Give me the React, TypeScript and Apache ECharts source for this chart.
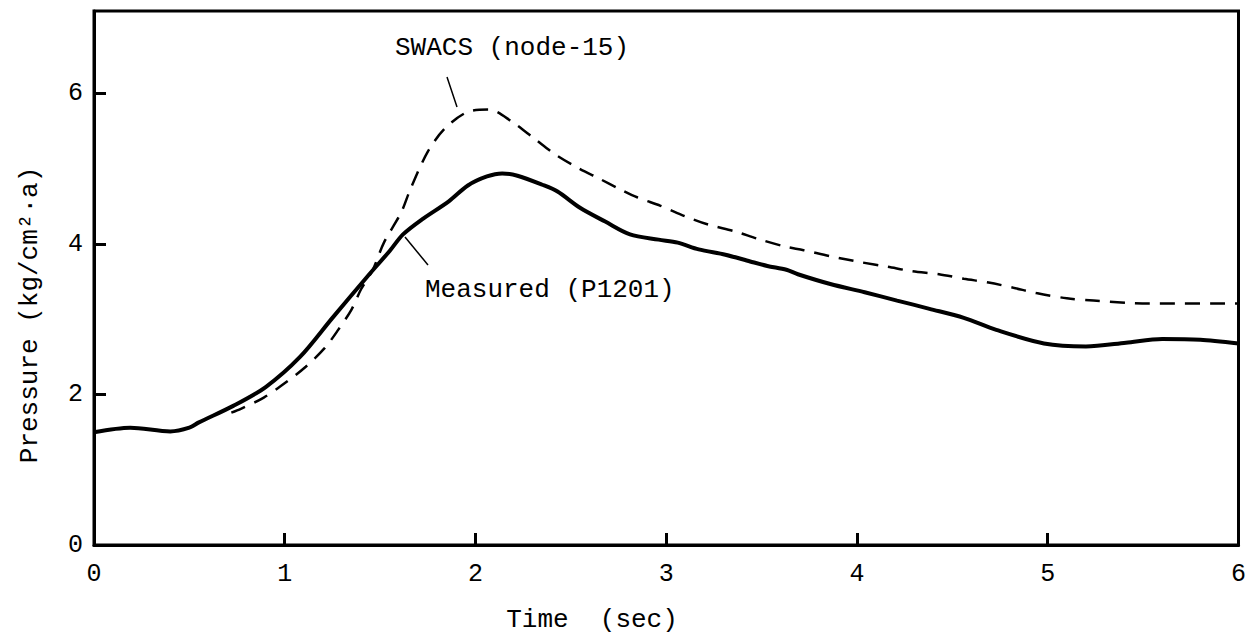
import React, { useEffect, useRef } from "react";
import * as echarts from "echarts";

const measuredTime = [0, 0.19, 0.4, 0.5, 0.55, 0.73, 0.9, 1.08, 1.25, 1.43, 1.55, 1.62, 1.72, 1.86, 1.96, 2.06, 2.14, 2.22, 2.35, 2.43, 2.55, 2.68, 2.81, 2.96, 3.06, 3.17, 3.31, 3.44, 3.53, 3.63, 3.69, 3.86, 4.04, 4.21, 4.38, 4.56, 4.73, 4.98, 5.2, 5.41, 5.6, 5.8, 6.0];
const measuredPressure = [1.5, 1.56, 1.51, 1.56, 1.63, 1.85, 2.1, 2.5, 3.02, 3.56, 3.91, 4.13, 4.33, 4.57, 4.78, 4.9, 4.94, 4.91, 4.79, 4.7, 4.48, 4.3, 4.13, 4.06, 4.02, 3.93, 3.86, 3.77, 3.71, 3.66, 3.6, 3.47, 3.36, 3.25, 3.14, 3.02, 2.86, 2.68, 2.64, 2.69, 2.74, 2.73, 2.68];

const swacsTime = [0.72, 0.77, 0.89, 1.01, 1.11, 1.21, 1.28, 1.35, 1.4, 1.46, 1.52, 1.61, 1.66, 1.75, 1.84, 1.96, 2.07, 2.19, 2.31, 2.42, 2.54, 2.65, 2.75, 2.85, 2.97, 3.1, 3.22, 3.36, 3.48, 3.62, 3.72, 3.86, 4.02, 4.16, 4.29, 4.43, 4.56, 4.69, 4.82, 4.94, 5.1, 5.24, 5.53, 6.0];
const swacsPressure = [1.76, 1.81, 1.96, 2.17, 2.37, 2.62, 2.86, 3.13, 3.4, 3.65, 4.02, 4.42, 4.74, 5.23, 5.54, 5.76, 5.79, 5.63, 5.4, 5.19, 5.01, 4.87, 4.74, 4.62, 4.51, 4.37, 4.26, 4.17, 4.07, 3.97, 3.92, 3.84, 3.76, 3.7, 3.64, 3.6, 3.54, 3.49, 3.42, 3.35, 3.28, 3.25, 3.21, 3.21];

const xTicks = [0, 1, 2, 3, 4, 5, 6];
const yTicks = [0, 2, 4, 6];

const FONT = "Liberation Mono";

export default function App() {
  const ref = useRef<HTMLDivElement>(null);
  useEffect(() => {
    if (!ref.current) return;
    const chart = echarts.init(ref.current, null, { renderer: "svg" });
    const measured = measuredTime.map((t, i) => [t, measuredPressure[i]]);
    const swacs = swacsTime.map((t, i) => [t, swacsPressure[i]]);
    chart.setOption({
      animation: false,
      backgroundColor: "#fff",
      grid: {
        left: 86,
        right: 6,
        top: 3,
        bottom: 96,
        show: true,
        borderColor: "#000",
        borderWidth: 3,
      },
      xAxis: {
        type: "value",
        min: 0,
        max: 6,
        interval: 1,
        axisLine: { show: true, lineStyle: { color: "#000", width: 3 } },
        axisTick: { show: true, inside: true, length: 12, lineStyle: { color: "#000", width: 3 } },
        axisLabel: {
          margin: 17,
          color: "#000",
          fontFamily: FONT,
          fontSize: 25,
          formatter: (v: number) => (xTicks.includes(v) ? String(v) : ""),
        },
        splitLine: { show: false },
      },
      yAxis: {
        type: "value",
        min: 0,
        max: 7.1,
        interval: 2,
        axisLine: { show: true, lineStyle: { color: "#000", width: 3 } },
        axisTick: { show: true, inside: true, length: 12, lineStyle: { color: "#000", width: 3 } },
        axisLabel: {
          margin: 11,
          color: "#000",
          fontFamily: FONT,
          fontSize: 25,
          showMaxLabel: false,
          formatter: (v: number) => (yTicks.includes(v) ? String(v) : ""),
        },
        splitLine: { show: false },
      },
      series: [
        {
          name: "Measured (P1201)",
          type: "line",
          data: measured,
          smooth: 0.3,
          symbol: "none",
          lineStyle: { color: "#000", width: 4 },
        },
        {
          name: "SWACS (node-15)",
          type: "line",
          data: swacs,
          smooth: 0.3,
          symbol: "none",
          lineStyle: { color: "#000", width: 2.5, type: [15, 10] },
        },
      ],
      graphic: [
        {
          type: "text",
          left: 387,
          top: 27,
          style: { text: "SWACS (node-15)", fontFamily: FONT, fontSize: 26, fill: "#000" },
        },
        {
          type: "line",
          shape: { x1: 439, y1: 69, x2: 449, y2: 99 },
          style: { stroke: "#000", lineWidth: 1.5 },
        },
        {
          type: "text",
          left: 417,
          top: 269,
          style: { text: "Measured (P1201)", fontFamily: FONT, fontSize: 26, fill: "#000" },
        },
        {
          type: "line",
          shape: { x1: 397, y1: 229, x2: 420, y2: 257 },
          style: { stroke: "#000", lineWidth: 1.5 },
        },
        {
          type: "text",
          x: 584,
          y: 612,
          style: { text: "Time  (sec)", fontFamily: FONT, fontSize: 26, fill: "#000", align: "center", verticalAlign: "middle" },
        },
        {
          type: "text",
          x: 22,
          y: 307,
          rotation: Math.PI / 2,
          style: { text: "Pressure (kg/cm²·a)", fontFamily: FONT, fontSize: 26, fill: "#000", align: "center", verticalAlign: "middle" },
        },
      ],
    });
    return () => chart.dispose();
  }, []);
  return <div ref={ref} style={{ width: 1241, height: 633, marginBottom: -8 }} />;
}
